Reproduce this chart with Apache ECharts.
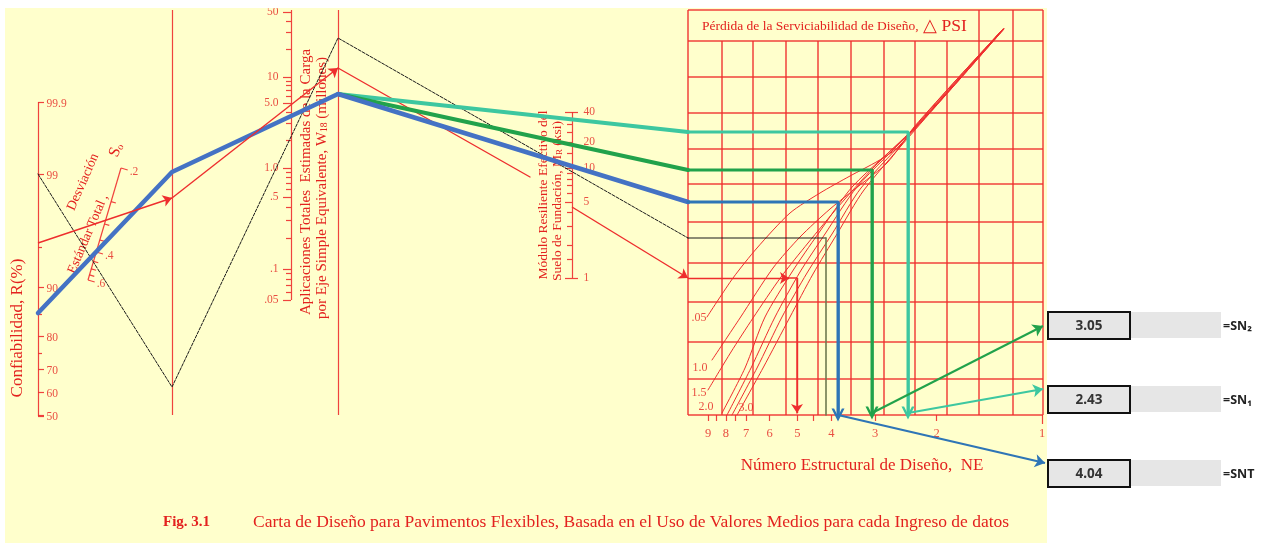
<!DOCTYPE html>
<html><head><meta charset="utf-8">
<script src="https://cdn.jsdelivr.net/npm/echarts/dist/echarts.min.js"></script>
<style>html,body{margin:0;padding:0;background:#fff}#c{width:1267px;height:543px}</style>
</head><body><div id="c"></div>
<script>
// ---------------- DATA ----------------
// Scale tick values / labels of the nomograph
const rTicks   = [50, 60, 70, 75, 80, 85, 90, 95, 99, 99.9];
const rLabels  = [50, 60, 70, 80, 90, 99, 99.9];
const s0Ticks  = [0.2, 0.25, 0.3, 0.35, 0.4, 0.45, 0.5, 0.55, 0.6];
const s0Labels = [0.2, 0.4, 0.6];
const s0Text   = ['.2', '.4', '.6'];
const w18Major = [0.05, 0.1, 0.5, 1, 5, 10, 50];
const w18Text  = ['.05', '.1', '.5', '1.0', '5.0', '10', '50'];
const w18Minor = [0.06, 0.07, 0.08, 0.09, 0.2, 0.3, 0.4, 0.6, 0.7, 0.8, 0.9, 2, 3, 4, 6, 7, 8, 9, 20, 30, 40];
const mrMajor  = [1, 5, 10, 20, 40];
const mrMinor  = [1.5, 2, 3, 4, 6, 7, 8, 9, 15, 25, 30, 35];
const snTicks  = [9, 8.5, 8, 7.5, 7, 6, 5, 4.5, 4, 3, 2, 1];
const snLabels = [9, 8, 7, 6, 5, 4, 3, 2, 1];
const psiNames = ['.05', '1.0', '1.5', '2.0', '3.0'];
// Results
const snValues = [3.05, 2.43, 4.04];
const snNames  = ['=SN₂', '=SN₁', '=SNT'];

// Solution paths, in the diagram frame (x right, y down)
const blueLeg1  = [[38,313],[172,172],[338,94],[688,202]];
const blueLeg2  = [[688,202],[838,202],[838,415]];
const blueLeg3  = [[838,415],[1045,463]];
const greenLeg1 = [[338,94],[688,170]];
const greenLeg2 = [[688,170],[872,170],[872,413]];
const greenLeg3 = [[872,413],[1043,326]];
const tealLeg1  = [[338,94],[688,132]];
const tealLeg2  = [[688,132],[908,132],[908,413]];
const tealLeg3  = [[908,413],[1043,389]];
const blackLeg1 = [[38,174],[172,387],[338,38],[688,238]];
const blackLeg2 = [[688,238],[826,238]];
const oliveLeg  = [[826,238],[826,415]];
const redLeg1   = [[38,243],[172,198]];
const redLeg2   = [[172,198],[338,68]];
const redLeg3   = [[338,68],[530,177]];
const redLeg4   = [[572,207],[688,278]];
const redLeg5   = [[688,278],[789,278]];
const redLeg6   = [[789,278],[797,278],[797,413]];

// Design serviceability-loss curves (ΔPSI)
const psi05 = [[707,317],[733,278],[757,248],[790,213],[820,193],[850,176],[878,161],[900,146],[914,127],[958,78],[1003,29]];
const psi10 = [[712,360],[740,318],[773,268],[800,237],[830,209],[860,185],[887,163],[914,128],[958,78],[1003,29]];
const psi15 = [[708,390],[731,352],[753,318],[781,277],[808,243],[838,207],[873,168],[914,128],[959,78],[1003,29]];
const psi20 = [[722,413],[745,368],[765,317],[792,272],[818,234],[853,186],[914,129],[959,79],[1003,29]];
const psi25 = [[727,415],[751,368],[775,317],[800,272],[825,234],[857,187],[914,129],[959,79],[1003,29]];
const psi30 = [[732,415],[757,368],[782,317],[807,273],[832,234],[861,188],[915,129],[960,79],[1004,29]];
const psi35 = [[737,415],[763,368],[790,317],[813,274],[837,234],[864,190],[915,130],[960,79],[1004,29]];

// ---------------- LAYOUT ----------------
const RED = '#EE2D2D', TXT = '#E3221F';
const SERIF = '"Liberation Serif","Times New Roman",serif';
const GRID_X = [688,722,753,786,818,851,884,915,947,979,1013,1043];
const GRID_Y = [10,41,77,113,149,184,222,263,302,342,379,415];
const FULL_X = [688,979,1013,1043];
const BOX_X = 1047, BOX_Y = [311,385,459];

function probit(p){
  const q = p < 0.5 ? p : 1 - p;
  const t = Math.sqrt(-2 * Math.log(q));
  const x = t - (2.515517 + 0.802853*t + 0.010328*t*t) / (1 + 1.432788*t + 0.189269*t*t + 0.001308*t*t*t);
  return p < 0.5 ? -x : x;
}
function interp(anch, v, f){
  const lv = f(v);
  for (let i = 0; i < anch.length - 1; i++){
    const a = f(anch[i][0]), b = f(anch[i+1][0]);
    if (lv <= b || i === anch.length - 2){
      const t = (lv - a) / (b - a);
      return anch[i][1] + t * (anch[i+1][1] - anch[i][1]);
    }
  }
}
const R_ANCH = [[50,415],[60,392],[70,369],[80,336],[90,287],[99,174],[99.9,102]];
const W_ANCH = [[0.05,300],[0.1,269],[0.5,197],[1,168],[5,103],[10,77],[50,12]];
const M_ANCH = [[1,278],[5,202],[10,168],[20,142],[40,112]];
const yR = v => interp(R_ANCH, v, x => probit(x/100));
const yW = v => interp(W_ANCH, v, Math.log10);
const yM = v => interp(M_ANCH, v, Math.log10);
const xSN = v => 1042 - 350 * Math.log10(v);
const S0B = [88,280], S0T = [121,168];
function pS0(s){
  const f = (1/s - 1/0.6) / (1/0.2 - 1/0.6);
  return [S0B[0] + f*(S0T[0]-S0B[0]), S0B[1] + f*(S0T[1]-S0B[1])];
}

// ---------------- BUILD ----------------
const frame = [];   // red structural lines
GRID_X.forEach(x => frame.push([[x, FULL_X.includes(x) ? 10 : 41],[x,415]]));
GRID_Y.forEach(y => frame.push([[688,y],[1043,y]]));
const axes = [];
axes.push([[172,10],[172,415]], [[338,10],[338,415]]);
// R axis
axes.push([[38,yR(99.9)],[38,yR(50)+1]]);
rTicks.forEach(v => axes.push([[38,yR(v)],[rLabels.includes(v)?44:42,yR(v)]]));
axes.push([[38,yR(50)+1],[44,yR(50)+1]]);
// W18 axis
axes.push([[291,10],[291,yW(0.05)]]);
w18Major.forEach(v => axes.push([[283,yW(v)],[291,yW(v)]]));
w18Minor.forEach(v => axes.push([[286,yW(v)],[291,yW(v)]]));
// MR axis
axes.push([[572,yM(40)],[572,yM(1)]]);
mrMajor.forEach(v => axes.push([[565,yM(v)],[572,yM(v)]]));
mrMinor.forEach(v => axes.push([[567,yM(v)],[572,yM(v)]]));
axes.push([[572,yM(40)],[578,yM(40)]], [[572,yM(1)],[578,yM(1)]]);
// S0 axis
axes.push([S0B, S0T]);
const dx = S0T[0]-S0B[0], dy = S0T[1]-S0B[1], L = Math.hypot(dx,dy);
const nx = -dy/L, ny = dx/L;
s0Ticks.forEach(s => { const p = pS0(s); const k = s0Labels.includes(s) ? 7 : 5;
  axes.push([p, [p[0]+nx*k, p[1]+ny*k]]); });
// SN axis ticks
snTicks.forEach(v => axes.push([[xSN(v),415],[xSN(v), v===1?424:421]]));

const labelSer = (data, pos, size, extra) => Object.assign({
  type:'scatter', silent:true, symbolSize:1, itemStyle:{color:'transparent'}, z:3,
  data,
  label:{show:true, position:pos, distance:0, formatter:p=>p.value[2], color:TXT,
         fontFamily:SERIF, fontSize:size}
}, extra||{});

const lineSer = (pts, color, width, type, smooth) => ({
  type:'line', data:pts, showSymbol:false, symbol:'none', silent:true, smooth:smooth||false,
  lineStyle:{color, width, type:type||'solid', cap:'round', join:'round'}, z:4
});
const CHEV = 'path://M0,10 L5,0 L10,10 L8,10 L5,4 L2,10 Z';
const arrowSer = (seg, color, width, sym, size) => ({
  type:'lines', coordinateSystem:'cartesian2d', silent:true, z:5,
  symbol:['none', sym], symbolSize:size,
  lineStyle:{color, width, opacity:1, curveness:0},
  data:[{coords:seg}]
});
const lastSeg = p => [p[p.length-2], p[p.length-1]];

const BLUE = '#4472C4', BLUE2 = '#2E75B6', GREEN = '#21A24B', TEAL = '#3DC7A0';
const SANS = '"Noto Sans",sans-serif';

const series = [
  {type:'lines', coordinateSystem:'cartesian2d', silent:true, z:2,
   lineStyle:{color:RED, width:1.5, opacity:0.9}, data:frame.map(c=>({coords:c}))},
  {type:'lines', coordinateSystem:'cartesian2d', silent:true, z:2,
   lineStyle:{color:RED, width:1.2, opacity:0.9}, data:axes.map(c=>({coords:c}))},
  // labels
  labelSer(rLabels.map(v=>[46, yR(v)+2, String(v)]), 'right', 11.5),
  labelSer(w18Major.map((v,i)=>[279, yW(v), w18Text[i]]), 'left', 11.5),
  labelSer(mrMajor.map(v=>[583, yM(v), String(v)]), 'right', 11.5),
  labelSer(s0Labels.map((v,i)=>{const p=pS0(v); return [p[0]+13, p[1]+4, s0Text[i]];}), 'inside', 11.5),
  labelSer(snLabels.map(v=>[xSN(v), 434, String(v)]), 'inside', 12.5),
  labelSer([[699,318,psiNames[0]],[700,368,psiNames[1]],[699,393,psiNames[2]],[706,407,psiNames[3]],[746,408,psiNames[4]]], 'inside', 12),
  // ΔPSI curves
  ...[psi05,psi10,psi15,psi20,psi25,psi30,psi35].map(c => lineSer(c, RED, 1, 'solid', 0.25)),
  // black worked example
  lineSer(blackLeg1, '#1a1a1a', 1, [3,1.5]),
  lineSer(blackLeg2, '#1a1a1a', 1.2),
  lineSer(oliveLeg, '#6E7A4E', 1.6),
  // red worked example
  arrowSer(redLeg1, RED, 1.4, 'arrow', 9),
  arrowSer(redLeg2, RED, 1.4, 'arrow', 9),
  lineSer(redLeg3, RED, 1.4),
  arrowSer(redLeg4, RED, 1.4, 'arrow', 9),
  arrowSer(redLeg5, RED, 1.4, 'arrow', 9),
  lineSer(redLeg6, RED, 1.4),
  arrowSer(lastSeg(redLeg6), RED, 1.4, 'arrow', 9),
  // teal
  lineSer(tealLeg1, TEAL, 4),
  lineSer(tealLeg2, TEAL, 3),
  arrowSer(lastSeg(tealLeg2), TEAL, 2.5, CHEV, 13),
  arrowSer(tealLeg3, TEAL, 2, 'arrow', 10),
  // green
  lineSer(greenLeg1, GREEN, 4),
  lineSer(greenLeg2, GREEN, 3),
  arrowSer(lastSeg(greenLeg2), GREEN, 2.5, CHEV, 13),
  arrowSer(greenLeg3, GREEN, 2, 'arrow', 10),
  // blue
  lineSer(blueLeg1, BLUE, 4.5),
  lineSer(blueLeg2, BLUE2, 3),
  arrowSer(lastSeg(blueLeg2), BLUE2, 2.5, CHEV, 13),
  arrowSer(blueLeg3, BLUE2, 2, 'arrow', 10),
  // result cells
  {type:'custom', coordinateSystem:'cartesian2d', silent:true, z:7,
   data:snValues.map((v,i)=>[i, v]),
   renderItem:(params, api) => {
     const i = api.value(0), v = api.value(1);
     const c = api.coord([BOX_X, BOX_Y[i]]);
     return {type:'group', children:[
       {type:'rect', shape:{x:c[0]+83, y:c[1]+1, width:91, height:26}, style:{fill:'#E6E6E6'}},
       {type:'rect', shape:{x:c[0]+1, y:c[1]+1, width:82, height:27}, style:{fill:'#E6E6E6', stroke:'#111', lineWidth:2}},
       {type:'text', x:c[0]+42, y:c[1]+15, style:{text:v.toFixed(2), fill:'#333', fontFamily:SANS, fontWeight:'bold', fontSize:13.5, align:'center', verticalAlign:'middle'}},
       {type:'text', x:c[0]+176, y:c[1]+15, style:{text:snNames[i], fill:'#222', fontFamily:SANS, fontWeight:'bold', fontSize:12.5, align:'left', verticalAlign:'middle'}}
     ]};
   }}
];

const T = (x,y,text,size,rotDeg,align,extra) => Object.assign({
  type:'text', x, y, rotation:(rotDeg||0)*Math.PI/180, z:1, silent:true,
  style:Object.assign({text, fill:TXT, fontFamily:SERIF, fontSize:size,
    align:align||'center', verticalAlign:'middle'}, extra||{})
});
const sub = s => ({rich:{s:{fontSize:s, fontFamily:SERIF, fill:TXT, verticalAlign:'bottom'}}});
const graphic = [
  {type:'rect', shape:{x:5,y:8,width:1042,height:535}, style:{fill:'#FFFFCC'}, z:-10, silent:true},
  T(18, 328, 'Confiabilidad, R(%)', 17, 90),
  T(83, 182, 'Desviación', 13.5, 66),
  T(88, 234, 'Estándar Total ,', 13.5, 67),
  T(116, 150, 'S{s|o}', 16, 67, 'center', sub(10)),
  T(306, 182, 'Aplicaciones Totales  Estimadas de la Carga', 15, 90),
  T(322, 188, 'por Eje Simple Equivalente, W{s|18} (millones)', 15, 90, 'center', sub(9.5)),
  T(543, 195, 'Módulo Resiliente Efectivo del', 13.5, 90),
  T(557, 201, 'Suelo de Fundación, M{s|R} (ksi)', 13.5, 90, 'center', sub(9)),
  T(702, 26, '{a|Pérdida de la Serviciabilidad de Diseño,}{b| △ PSI}', 13.5, 0, 'left',
    {rich:{a:{fontSize:13.5, fontFamily:SERIF, fill:TXT}, b:{fontSize:17.5, fontFamily:SERIF, fill:TXT}}}),
  T(862, 466, 'Número Estructural de Diseño,  NE', 17, 0),
  T(163, 522, 'Fig. 3.1', 15, 0, 'left', {fontWeight:'bold'}),
  T(253, 522, 'Carta de Diseño para Pavimentos Flexibles, Basada en el Uso de Valores Medios para cada Ingreso de datos', 17.5, 0, 'left'),
  {type:'rect', shape:{x:0,y:0,width:1267,height:8}, style:{fill:'#ffffff'}, z:100, silent:true}
];

const chart = echarts.init(document.getElementById('c'), null, {renderer:'canvas'});
chart.setOption({
  animation:false,
  backgroundColor:'#ffffff',
  grid:{left:0, right:0, top:0, bottom:0, containLabel:false},
  xAxis:{type:'value', min:0, max:1267, show:false},
  yAxis:{type:'value', min:0, max:543, inverse:true, show:false},
  graphic,
  series
});
</script></body></html>
